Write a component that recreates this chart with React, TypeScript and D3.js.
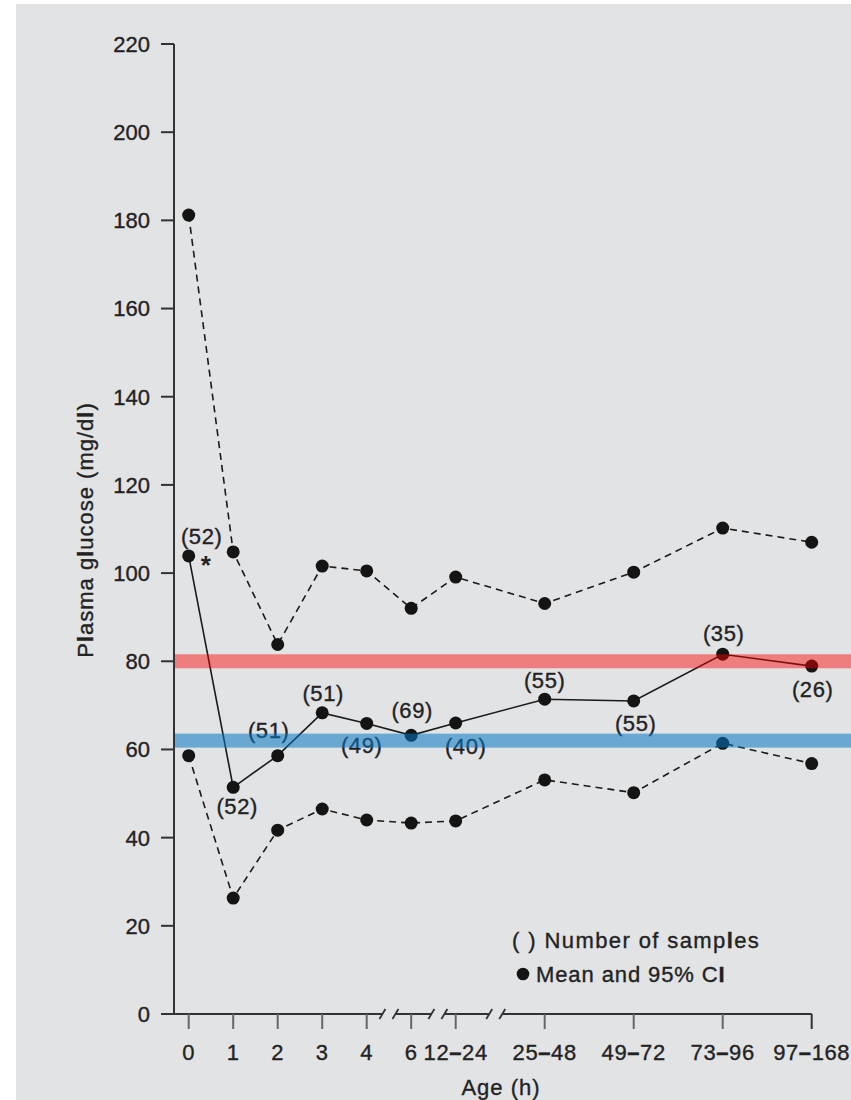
import React from "react";
import * as d3 from "d3";

// ---- data ----
const categories = ["0", "1", "2", "3", "4", "6", "12–24", "25–48", "49–72", "73–96", "97–168"];
const slots = [0, 1, 2, 3, 4, 5, 6, 8, 10, 12, 14];
const meanValues = [103.9, 51.4, 58.6, 68.3, 65.9, 63.2, 66.0, 71.4, 71.0, 81.6, 78.9];
const upperCI = [181.2, 104.8, 83.8, 101.6, 100.5, 92.0, 99.1, 93.1, 100.2, 110.2, 107.0];
const lowerCI = [58.6, 26.3, 41.7, 46.5, 44.0, 43.3, 43.8, 53.1, 50.2, 61.4, 56.8];
const sampleSizes = [52, 52, 51, 51, 49, 69, 40, 55, 55, 35, 26];
const yTicks = [0, 20, 40, 60, 80, 100, 120, 140, 160, 180, 200, 220];
const thresholds = [80, 62];
const axisBreaks = [4.5, 5.6, 6.9];

// label offsets (layout)
const labelOffsets: [number, number][] = [
  [13, -20], [4, 19], [-9, -26], [1, -20], [-5, 22], [1, -25],
  [10, 23], [0, -19], [2, 22], [1, -21], [1, 23],
];

const W = 851;
const H = 1100;
const FONT = "'Liberation Sans', Arial, Helvetica, sans-serif";
const TXT = "#222";
const FS = 22;
const TS = { stroke: "#222", strokeWidth: 0.35 };

export default function App() {
  const x = d3.scaleLinear().domain([0, 14]).range([188.7, 811.7]);
  const y = d3.scaleLinear().domain([0, 220]).range([1014, 44]);
  const axisX = 174;
  const axisY = y(0);

  const line = d3
    .line<number>()
    .x((_, i) => x(slots[i]))
    .y((d) => y(d));

  const gapHalf = 6.5;
  const segs: [number, number][] = [];
  let start = 161;
  axisBreaks.forEach((b) => {
    const bx = x(b);
    segs.push([start, bx - gapHalf]);
    start = bx + gapHalf;
  });
  segs.push([start, x(14)]);

  const slash = (cx: number) => (
    <line key={"s" + cx} x1={cx - 3} y1={axisY + 5} x2={cx + 3} y2={axisY - 5} stroke="#333" strokeWidth={1.8} />
  );

  const bandColors = ["rgba(255,0,0,0.45)", "rgba(8,120,198,0.55)"];

  const renderCat = (c: string) => {
    const parts = c.split("–");
    if (parts.length === 1) return c;
    return (
      <>
        {parts[0]}
        <tspan fontWeight="bold">–</tspan>
        {parts[1]}
      </>
    );
  };

  return (
    <svg width={W} height={H} style={{ position: "absolute", left: 0, top: 0 }} fontFamily={FONT}>
      <rect x={0} y={0} width={W} height={H} fill="#ffffff" />
      <rect x={16} y={4} width={W - 16} height={H - 4} fill="#e2e3e5" />

      {/* y axis */}
      <line x1={axisX} y1={y(220)} x2={axisX} y2={axisY} stroke="#333" strokeWidth={2} />
      {yTicks.map((t) => (
        <g key={t}>
          <line x1={161} x2={axisX} y1={y(t)} y2={y(t)} stroke="#333" strokeWidth={2} />
          <text x={150} y={y(t)} dy="0.36em" textAnchor="end" fontSize={FS} fill={TXT} {...TS}>
            {t}
          </text>
        </g>
      ))}
      <text
        transform={`translate(85,530) rotate(-90)`}
        textAnchor="middle"
        dy="0.36em"
        fontSize={FS}
        letterSpacing={1}
        fill={TXT}
        {...TS}
      >
        P<tspan fontWeight="bold">l</tspan>asma g<tspan fontWeight="bold">l</tspan>ucose (mg/d
        <tspan fontWeight="bold">l</tspan>)
      </text>

      {/* x axis */}
      {segs.map(([a, b], i) => (
        <line key={i} x1={a} x2={b} y1={axisY} y2={axisY} stroke="#333" strokeWidth={2} />
      ))}
      {axisBreaks.map((b) => (
        <g key={b}>
          {slash(x(b) - gapHalf)}
          {slash(x(b) + gapHalf)}
        </g>
      ))}
      {categories.map((c, i) => (
        <g key={c}>
          <line
            x1={x(slots[i])}
            x2={x(slots[i])}
            y1={axisY}
            y2={axisY + 15}
            stroke={i === categories.length - 1 ? "#333" : "#666"}
            strokeWidth={2}
          />
          <text x={x(slots[i])} y={1052} dy="0.36em" textAnchor="middle" fontSize={FS} letterSpacing={0.6} fill={TXT} {...TS}>
            {renderCat(c)}
          </text>
        </g>
      ))}
      <text x={501} y={1087} dy="0.36em" textAnchor="middle" fontSize={FS} letterSpacing={1} fill={TXT} {...TS}>
        Age (h)
      </text>

      {/* CI lines */}
      <path d={line(upperCI) || ""} fill="none" stroke="#1a1a1a" strokeWidth={1.6} strokeDasharray="7,5" />
      <path d={line(lowerCI) || ""} fill="none" stroke="#1a1a1a" strokeWidth={1.6} strokeDasharray="7,5" />
      <path d={line(meanValues) || ""} fill="none" stroke="#1a1a1a" strokeWidth={1.6} />

      {[upperCI, lowerCI, meanValues].map((arr, k) =>
        arr.map((v, i) => <circle key={k + "-" + i} cx={x(slots[i])} cy={y(v)} r={6.5} fill="#141414" />)
      )}

      {/* sample size labels */}
      {sampleSizes.map((n, i) => (
        <text
          key={"n" + i}
          x={x(slots[i]) + labelOffsets[i][0]}
          y={y(meanValues[i]) + labelOffsets[i][1]}
          dy="0.36em"
          textAnchor="middle"
          fontSize={FS}
          letterSpacing={0.6}
          fill={TXT}
          {...TS}
        >
          ({n})
        </text>
      ))}
      <text x={x(0) + 17} y={y(meanValues[0]) + 18} textAnchor="middle" fontSize={26} fontWeight="bold" fill={TXT}>
        *
      </text>

      {/* legend */}
      <text x={512} y={940} dy="0.36em" fontSize={FS} letterSpacing={1.4} fill={TXT} {...TS}>
        ( ) Number of samp<tspan fontWeight="bold">l</tspan>es
      </text>
      <circle cx={523} cy={974} r={6.3} fill="#141414" />
      <text x={536} y={974} dy="0.36em" fontSize={FS} letterSpacing={0.9} fill={TXT} {...TS}>
        Mean and 95% C<tspan fontWeight="bold">I</tspan>
      </text>

      {/* threshold bands on top */}
      {thresholds.map((t, i) => (
        <rect key={t} x={axisX + 1} y={y(t) - 7} width={W - axisX - 1} height={14} fill={bandColors[i]} />
      ))}
    </svg>
  );
}
